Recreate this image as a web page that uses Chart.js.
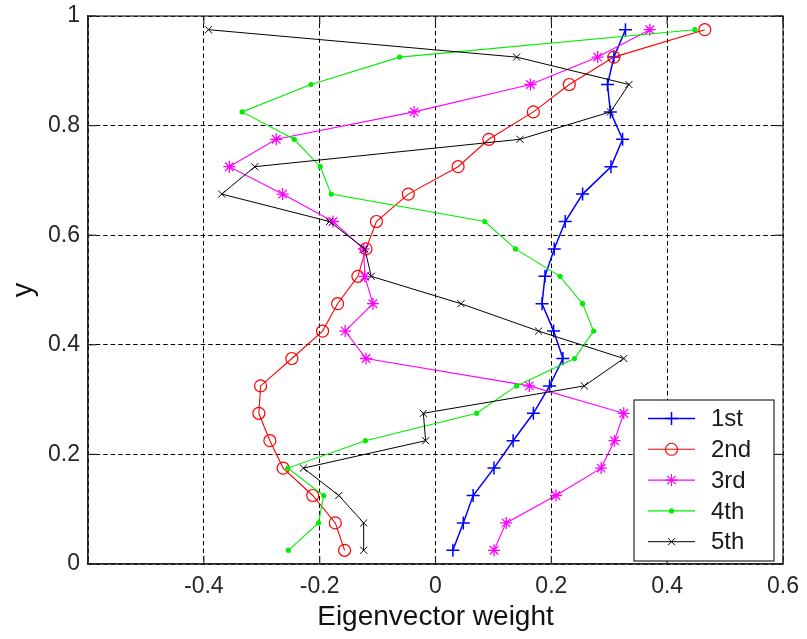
<!DOCTYPE html>
<html lang="en">
<head>
<meta charset="UTF-8">
<title>Eigenvector weights</title>
<script src="https://cdn.jsdelivr.net/npm/chart.js@4.4.1/dist/chart.umd.min.js"></script>
<style>
  html, body { margin: 0; padding: 0; background: #fff; }
  #wrap { width: 807px; height: 639px; }
</style>
</head>
<body>
<div id="wrap"><canvas id="chart" width="807" height="639"></canvas></div>
<script>
  // sample heights, bottom to top
  const yLevels = [0.025, 0.075, 0.125, 0.175, 0.225, 0.275, 0.325, 0.375, 0.425, 0.475,
                   0.525, 0.575, 0.625, 0.675, 0.725, 0.775, 0.825, 0.875, 0.925, 0.975];

  // eigenvector weights, same order as yLevels
  const first  = [0.030, 0.048, 0.065, 0.101, 0.134, 0.169, 0.197, 0.220, 0.204, 0.184,
                  0.189, 0.205, 0.224, 0.254, 0.303, 0.323, 0.302, 0.297, 0.308, 0.328];
  const second = [-0.157, -0.173, -0.212, -0.263, -0.286, -0.305, -0.302, -0.248, -0.195, -0.169,
                  -0.134, -0.120, -0.102, -0.047, 0.039, 0.092, 0.169, 0.231, 0.308, 0.465];
  const third  = [0.101, 0.122, 0.208, 0.286, 0.309, 0.325, 0.162, -0.120, -0.156, -0.108,
                  -0.122, -0.124, -0.177, -0.264, -0.356, -0.275, -0.037, 0.164, 0.280, 0.370];
  const fourth = [-0.254, -0.202, -0.193, -0.255, -0.121, 0.071, 0.140, 0.240, 0.273, 0.254,
                  0.215, 0.138, 0.085, -0.180, -0.199, -0.244, -0.334, -0.215, -0.062, 0.448];
  const fifth  = [-0.124, -0.124, -0.167, -0.228, -0.017, -0.021, 0.257, 0.325, 0.178, 0.044,
                  -0.111, -0.122, -0.183, -0.369, -0.312, 0.146, 0.302, 0.334, 0.140, -0.392];

  const seriesNames = ['1st', '2nd', '3rd', '4th', '5th'];

  const xTicks = [-0.6, -0.4, -0.2, 0, 0.2, 0.4, 0.6];
  const xTickLabels = ['', '-0.4', '-0.2', '0', '0.2', '0.4', '0.6'];
  const yTicks = [0, 0.2, 0.4, 0.6, 0.8, 1];
  const yTickLabels = ['0', '0.2', '0.4', '0.6', '0.8', '1'];

  const FONT = '"Liberation Sans", Arial, sans-serif';

  function pts(xs) {
    return xs.map((v, i) => ({ x: v, y: yLevels[i] }));
  }

  const styles = [
    { color: '#0000ff', point: 'cross',    r: 6.5, pw: 1.5, lw: 1.5, fill: '#0000ff' },
    { color: '#ff0000', point: 'circle',   r: 6,   pw: 1.2, lw: 1.1, fill: 'rgba(0,0,0,0)' },
    { color: '#ff00ff', point: 'star',     r: 6,   pw: 1.3, lw: 1.1, fill: '#ff00ff' },
    { color: '#00ee00', point: 'circle',   r: 2.6, pw: 0,   lw: 1.1, fill: '#00ee00' },
    { color: '#000000', point: 'crossRot', r: 5,   pw: 1,   lw: 1,   fill: '#000000' }
  ];
  const values = [first, second, third, fourth, fifth];

  const datasets = values.map((vals, i) => ({
    label: seriesNames[i],
    data: pts(vals),
    showLine: true,
    borderColor: styles[i].color,
    borderWidth: styles[i].lw,
    backgroundColor: styles[i].fill,
    pointStyle: styles[i].point,
    pointRadius: styles[i].r,
    pointBorderWidth: styles[i].pw,
    pointBorderColor: styles[i].color,
    pointBackgroundColor: styles[i].fill,
    order: values.length - i
  }));

  // box, inner ticks and the boxed legend
  const framePlugin = {
    id: 'frame',
    afterDatasetsDraw(chart) {
      const { ctx, chartArea: a, scales } = chart;
      const line = (x1, y1, x2, y2) => {
        ctx.beginPath(); ctx.moveTo(x1, y1); ctx.lineTo(x2, y2); ctx.stroke();
      };
      ctx.save();
      ctx.strokeStyle = '#262626';
      ctx.lineWidth = 1.2;
      ctx.setLineDash([]);
      ctx.strokeRect(a.left, a.top, a.right - a.left, a.bottom - a.top);
      const tl = 8;
      xTicks.forEach(v => {
        const px = scales.x.getPixelForValue(v);
        line(px, a.bottom, px, a.bottom - tl);
        line(px, a.top, px, a.top + tl);
      });
      yTicks.forEach(v => {
        const py = scales.y.getPixelForValue(v);
        line(a.left, py, a.left + tl, py);
        line(a.right, py, a.right - tl, py);
      });

      // legend
      const lw = 140, lh = 161;
      const lx = a.right - 9 - lw, ly = a.bottom - 3 - lh;
      ctx.fillStyle = '#fff';
      ctx.fillRect(lx, ly, lw, lh);
      ctx.strokeStyle = '#262626';
      ctx.lineWidth = 1.2;
      ctx.strokeRect(lx, ly, lw, lh);
      chart.data.datasets.forEach((ds, i) => {
        const ry = ly + 18.5 + i * 30.8;
        ctx.strokeStyle = ds.borderColor;
        ctx.lineWidth = ds.borderWidth;
        line(lx + 14, ry, lx + 61, ry);
        ctx.fillStyle = ds.pointBackgroundColor;
        Chart.helpers.drawPoint(ctx, {
          pointStyle: ds.pointStyle,
          radius: ds.pointRadius,
          borderWidth: ds.pointBorderWidth,
          rotation: 0
        }, lx + 37.5, ry);
        ctx.fillStyle = '#1a1a1a';
        ctx.font = '24px ' + FONT;
        ctx.textAlign = 'left';
        ctx.textBaseline = 'middle';
        ctx.fillText(ds.label, lx + 77, ry + 1);
      });
      ctx.restore();
    }
  };

  new Chart(document.getElementById('chart'), {
    type: 'scatter',
    data: { datasets: datasets },
    options: {
      responsive: false,
      animation: false,
      events: [],
      layout: { padding: { top: 16, right: 24, left: 0, bottom: 0 } },
      plugins: { legend: { display: false }, tooltip: { enabled: false } },
      scales: {
        x: {
          type: 'linear',
          min: -0.6,
          max: 0.6,
          afterBuildTicks: s => { s.ticks = xTicks.map(v => ({ value: v })); },
          afterFit: s => { s.height = 75; s.paddingLeft = 0; s.paddingRight = 0; },
          ticks: {
            autoSkip: false,
            maxRotation: 0,
            padding: 9,
            color: '#262626',
            font: { family: FONT, size: 23 },
            callback: (v, i) => xTickLabels[i]
          },
          grid: { color: '#000', lineWidth: 1, drawTicks: false },
          border: { display: true, color: '#262626', width: 1.2, dash: [4.5, 3] },
          title: {
            display: true,
            text: 'Eigenvector weight',
            color: '#111',
            font: { family: FONT, size: 28 },
            padding: { top: 0, bottom: 5 }
          }
        },
        y: {
          type: 'linear',
          min: 0,
          max: 1,
          afterBuildTicks: s => { s.ticks = yTicks.map(v => ({ value: v })); },
          afterFit: s => { s.width = 88; s.paddingTop = 0; s.paddingBottom = 0; },
          ticks: {
            autoSkip: false,
            padding: 8,
            color: '#262626',
            font: { family: FONT, size: 23 },
            callback: (v, i) => yTickLabels[i]
          },
          grid: { color: '#000', lineWidth: 1, drawTicks: false },
          border: { display: true, color: '#262626', width: 1.2, dash: [4.5, 3] },
          title: {
            display: true,
            text: 'y',
            color: '#111',
            font: { family: FONT, size: 29 },
            padding: { top: 7, bottom: 0 }
          }
        }
      }
    },
    plugins: [framePlugin]
  });
</script>
</body>
</html>
